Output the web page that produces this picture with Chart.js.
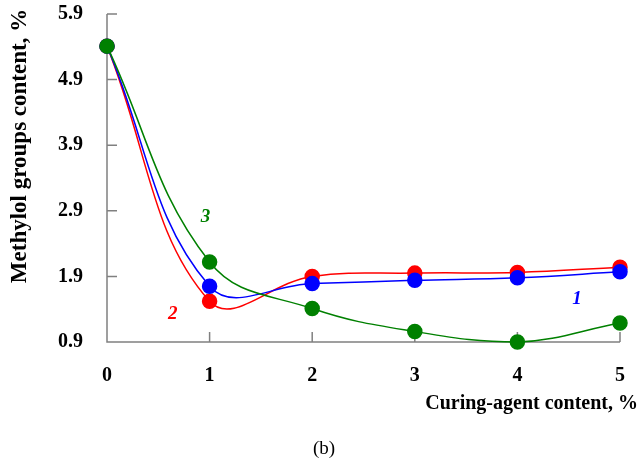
<!DOCTYPE html>
<html><head><meta charset="utf-8">
<script src="https://cdn.jsdelivr.net/npm/chart.js@4/dist/chart.umd.min.js"></script>
<style>html,body{margin:0;padding:0;background:#fff}#wrap{width:642px;height:459px}</style>
</head><body><div id="wrap"><canvas id="c" width="642" height="459"></canvas></div>
<script>
const xValues = [0, 1, 2, 3, 4, 5];
const series1 = [5.41, 1.75, 1.79, 1.84, 1.88, 1.97]; // blue, curve 1
const series2 = [5.41, 1.52, 1.90, 1.95, 1.96, 2.04]; // red, curve 2
const series3 = [5.41, 2.12, 1.41, 1.06, 0.90, 1.19]; // green, curve 3
const yTicks = [0.9, 1.9, 2.9, 3.9, 4.9, 5.9];
const xTicks = [0, 1, 2, 3, 4, 5];
const curveLabels = [
  {text: '1', x: 4.58, y: 1.56, color: '#0000ff'},
  {text: '2', x: 0.64, y: 1.32, color: '#ff0000'},
  {text: '3', x: 0.96, y: 2.80, color: '#008000'}
];
const xTitle = 'Curing-agent content, %';
const yTitle = 'Methylol groups content, %';
const caption = '(b)';

const FONT = '"Liberation Serif", "Times New Roman", serif';
const pts = arr => arr.map((v, i) => ({x: xValues[i], y: v}));
const mk = (label, data, color) => ({
  label, data: pts(data), borderColor: color, backgroundColor: color,
  pointBackgroundColor: color, pointBorderColor: color, pointRadius: 7,
  pointHoverRadius: 7, borderWidth: 1.5, tension: 0.4, fill: false, clip: false
});

const decor = {
  id: 'decor',
  beforeDatasetsDraw(chart) {
    const {ctx, scales: {x, y}, chartArea: a} = chart;
    ctx.save();
    ctx.strokeStyle = '#808080';
    ctx.lineWidth = 1.5;
    ctx.beginPath();
    ctx.moveTo(a.left, a.top); ctx.lineTo(a.left, a.bottom); ctx.lineTo(a.right, a.bottom);
    yTicks.forEach(v => { const py = y.getPixelForValue(v); ctx.moveTo(a.left, py); ctx.lineTo(a.left + 10, py); });
    xTicks.slice(1).forEach(v => { const px = x.getPixelForValue(v); ctx.moveTo(px, a.bottom); ctx.lineTo(px, a.bottom - 10); });
    ctx.stroke();
    ctx.restore();
  },
  afterDatasetsDraw(chart) {
    const {ctx, scales: {x, y}} = chart;
    ctx.save();
    ctx.textAlign = 'center'; ctx.textBaseline = 'middle';
    ctx.font = 'italic bold 19px ' + FONT;
    curveLabels.forEach(l => { ctx.fillStyle = l.color; ctx.fillText(l.text, x.getPixelForValue(l.x), y.getPixelForValue(l.y)); });
    ctx.fillStyle = '#000';
    ctx.font = 'bold 20px ' + FONT;
    ctx.textAlign = 'right';
    ctx.fillText(xTitle, 638, 404);
    ctx.save();
    ctx.translate(20, 146);
    ctx.rotate(-Math.PI / 2);
    ctx.textAlign = 'center';
    ctx.font = 'bold 23px ' + FONT;
    ctx.fillText(yTitle, 0, 0);
    ctx.restore();
    ctx.font = '19px ' + FONT;
    ctx.textAlign = 'center';
    ctx.fillText(caption, 324, 449);
    ctx.restore();
  }
};

new Chart(document.getElementById('c'), {
  type: 'line',
  data: { datasets: [ mk('3', series3, '#008000'), mk('1', series1, '#0000ff'), mk('2', series2, '#ff0000') ] },
  options: {
    responsive: false, animation: false, devicePixelRatio: 1,
    layout: { padding: { left: 0, top: 14, right: 22, bottom: 0 } },
    plugins: { legend: { display: false }, tooltip: { enabled: false } },
    scales: {
      x: {
        type: 'linear', min: 0, max: 5,
        afterBuildTicks: s => { s.ticks = xTicks.map(v => ({value: v})); },
        afterFit: s => { s.height = 117; s.paddingLeft = 0; s.paddingRight = 0; },
        grid: { display: false, drawTicks: false }, border: { display: false },
        ticks: { padding: 22, color: '#000', font: { family: FONT, size: 20, weight: 'bold' }, callback: v => String(v) }
      },
      y: {
        type: 'linear', min: 0.9, max: 5.9,
        afterBuildTicks: s => { s.ticks = yTicks.map(v => ({value: v})); },
        afterFit: s => { s.width = 107; s.paddingTop = 0; s.paddingBottom = 0; },
        grid: { display: false, drawTicks: false }, border: { display: false },
        ticks: { padding: 24, color: '#000', font: { family: FONT, size: 20, weight: 'bold' }, callback: v => Number(v).toFixed(1) }
      }
    }
  },
  plugins: [decor]
});
</script></body></html>
